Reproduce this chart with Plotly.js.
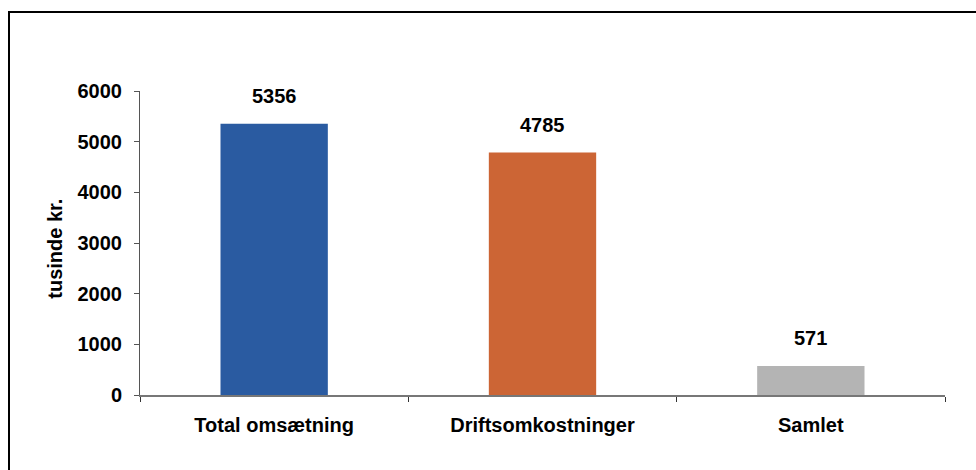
<!DOCTYPE html>
<html>
<head>
<meta charset="utf-8">
<script src="https://cdn.plot.ly/plotly-3.0.1.min.js"></script>
<style>
html,body{margin:0;padding:0;background:#fff;}
#chart{width:976px;height:470px;}
</style>
</head>
<body>
<div id="chart"></div>
<script>
const categories = ["Total omsætning", "Driftsomkostninger", "Samlet"];
const values = [5356, 4785, 571];
const barColors = ["#2A5BA1", "#CC6535", "#B4B4B4"];
const yTickValues = [0, 1000, 2000, 3000, 4000, 5000, 6000];
const yAxisTitle = "tusinde kr.";

const FONT = "Liberation Sans, Arial, sans-serif";

const trace = {
  type: "bar",
  x: categories,
  y: values,
  marker: {color: barColors, line: {width: 0}},
  hoverinfo: "none",
  showlegend: false
};

const annotations = categories.map((c, i) => ({
  x: c, y: values[i], xref: "x", yref: "y",
  text: "<b>" + values[i] + "</b>",
  showarrow: false, yanchor: "bottom", yshift: 15,
  font: {family: FONT, size: 20, color: "#000"}
}));
annotations.push({
  xref: "paper", yref: "paper", x: -0.106, y: 0.48,
  text: "<b>" + yAxisTitle + "</b>", textangle: -90,
  showarrow: false, xanchor: "center", yanchor: "middle",
  font: {family: FONT, size: 20, color: "#000"}
});

const px = v => (v - 140) / 805;
const py = v => (395 - v) / 304;

const layout = {
  width: 976, height: 470,
  margin: {l: 140, r: 31, t: 91, b: 75, pad: 0},
  paper_bgcolor: "#fff", plot_bgcolor: "#fff",
  bargap: 0.6,
  font: {family: FONT, color: "#000"},
  xaxis: {
    type: "category", range: [-0.5, 2.5],
    showline: true, linecolor: "#777", linewidth: 2,
    ticks: "outside", tickson: "boundaries", ticklen: 5, tickcolor: "#333", tickwidth: 1,
    showgrid: false, zeroline: false,
    tickfont: {family: FONT, size: 20, color: "#000", weight: "bold"},
    ticklabelstandoff: 11
  },
  yaxis: {
    range: [0, 6000], tickvals: yTickValues,
    showline: true, linecolor: "#555", linewidth: 1,
    ticks: "outside", ticklen: 5, tickcolor: "#555",
    showgrid: false, zeroline: false,
    tickfont: {family: FONT, size: 20, color: "#000", weight: "bold"},
    ticklabelstandoff: 8
  },
  annotations: annotations,
  shapes: [
    {type: "line", xref: "paper", yref: "paper",
     x0: px(8), x1: px(990), y0: py(12), y1: py(12),
     line: {color: "#000", width: 2}, layer: "above"},
    {type: "line", xref: "paper", yref: "paper",
     x0: px(9), x1: px(9), y0: py(11), y1: py(480),
     line: {color: "#000", width: 2}, layer: "above"}
  ]
};

Plotly.newPlot("chart", [trace], layout, {staticPlot: true, displayModeBar: false});
</script>
</body>
</html>
